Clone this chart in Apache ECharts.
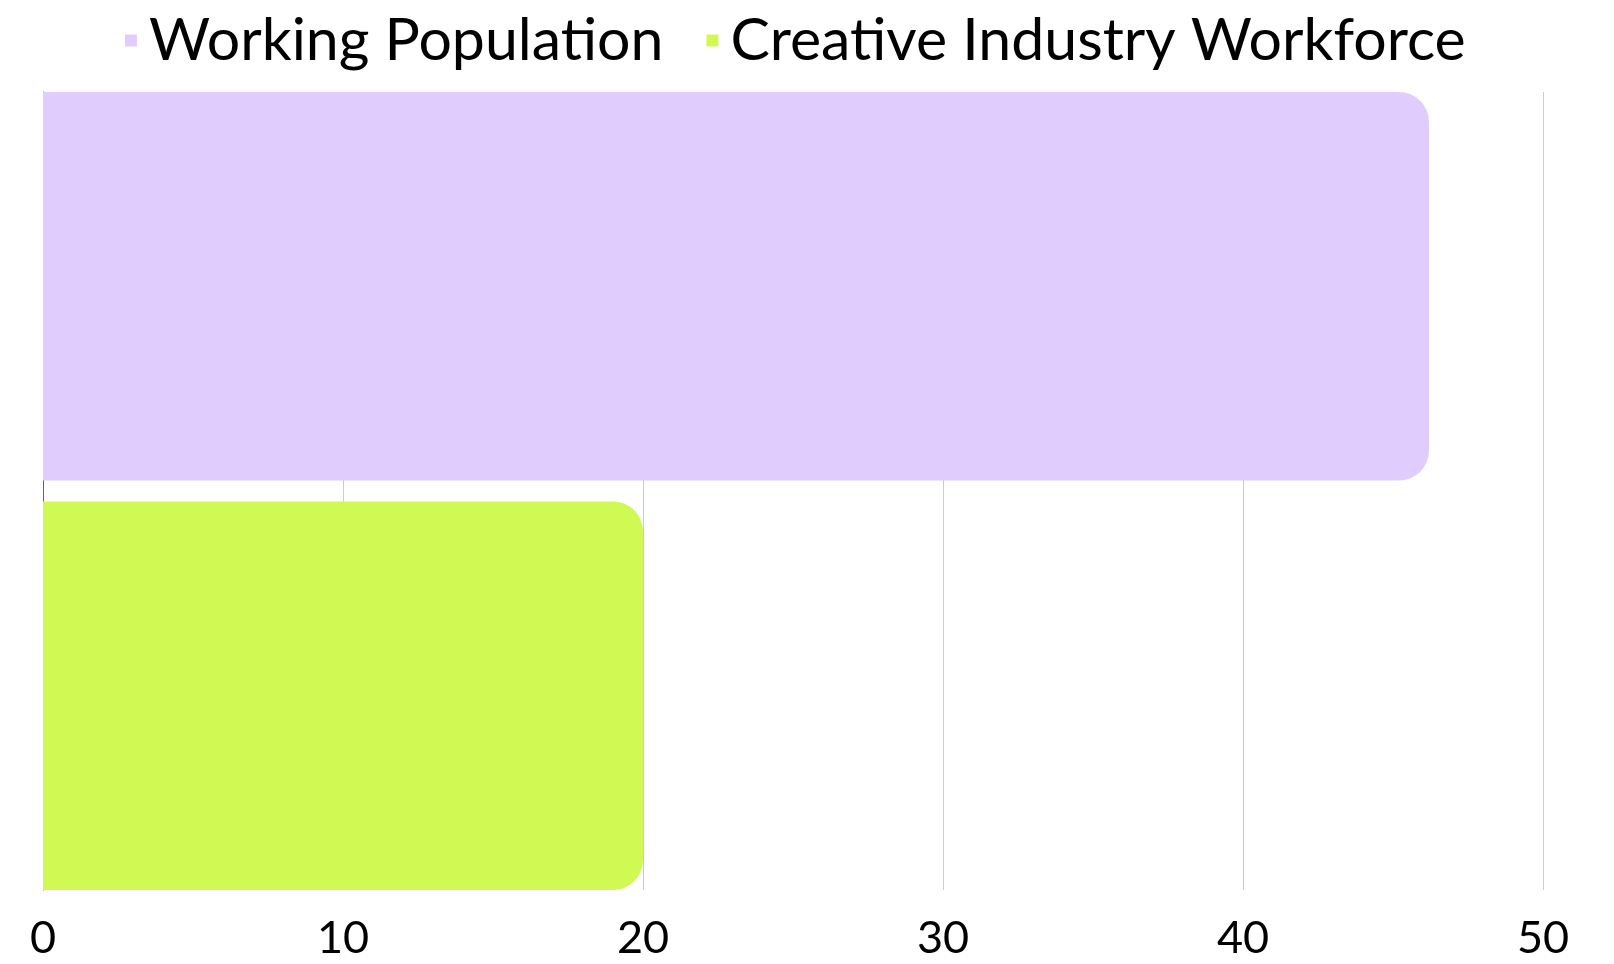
<!DOCTYPE html>
<html>
<head>
<meta charset="utf-8">
<script src="https://cdn.jsdelivr.net/npm/echarts@6/dist/echarts.min.js"></script>
<style>
html,body{margin:0;padding:0;background:#fff;}
#chart{width:1614px;height:964px;}
</style>
</head>
<body>
<div id="chart"></div>
<script>
const categories = [''];
const seriesNames = ['Working Population', 'Creative Industry Workforce'];
const workingPopulation = [46.2];
const creativeWorkforce = [20.0];
const xTicks = { min: 0, max: 50, interval: 10 };
const colors = ['#e0cdfe', '#d0f953'];

const chart = echarts.init(document.getElementById('chart'));
const font = 'Lato';
chart.setOption({
  animation: false,
  color: colors,
  legend: {
    top: 6,
    left: 120,
    itemWidth: 12,
    itemHeight: 12,
    itemGap: 43,
    icon: 'rect',
    textStyle: { fontFamily: font, fontSize: 59, color: '#000', padding: [0, 0, 0, 7] },
    data: seriesNames
  },
  grid: { left: 43, right: 71, top: 92, bottom: 74, containLabel: false },
  xAxis: {
    type: 'value',
    min: xTicks.min, max: xTicks.max, interval: xTicks.interval,
    axisLine: { show: false },
    axisTick: { show: false },
    splitLine: { show: true, lineStyle: { color: '#cccccc', width: 1 } },
    axisLabel: { fontFamily: font, fontSize: 45, color: '#000', margin: 26 }
  },
  yAxis: {
    type: 'category',
    data: categories,
    axisLine: { show: true, lineStyle: { color: '#666', width: 1 } },
    axisTick: { show: false },
    axisLabel: { show: false }
  },
  series: [
    {
      name: seriesNames[0], type: 'bar', data: workingPopulation,
      barGap: '5.4%', barCategoryGap: '0%',
      itemStyle: { borderRadius: [0, 30, 30, 0] }
    },
    {
      name: seriesNames[1], type: 'bar', data: creativeWorkforce,
      itemStyle: { borderRadius: [0, 30, 30, 0] }
    }
  ]
});
</script>
</body>
</html>
